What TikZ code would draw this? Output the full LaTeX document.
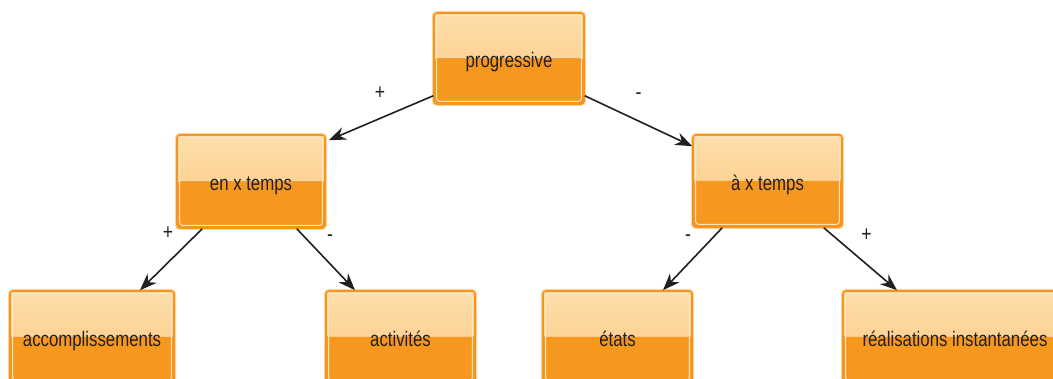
\documentclass[tikz,border=0pt]{standalone}
\usepackage{fontspec}
\setmainfont{Liberation Sans}[FakeStretch=0.8]
\usetikzlibrary{arrows.meta}
\definecolor{toplight}{HTML}{FDDEAB}
\definecolor{topmid}{HTML}{FCC880}
\definecolor{boxorange}{HTML}{F7981E}
\definecolor{edgec}{HTML}{F7941D}
\definecolor{glowc}{HTML}{FDD7A2}
\definecolor{innerc}{HTML}{FDE6C4}
\definecolor{inkc}{HTML}{231F20}
\tikzset{
  gbox/.style={rectangle, rounded corners=3pt, minimum width=#1, minimum height=92pt,
    inner sep=0pt, text=inkc, font=\fontsize{21}{24}\selectfont,
    text height=22pt, text depth=3pt,
    preaction={draw=glowc, line width=4pt},
    draw=edgec, line width=1.6pt,
    path picture={
      \fill[top color=toplight, bottom color=topmid]
        (path picture bounding box.north west) rectangle (path picture bounding box.east);
      \fill[boxorange]
        (path picture bounding box.west) rectangle (path picture bounding box.south east);
      \draw[innerc, line width=1pt]
        ([shift={(2.6pt,-2.6pt)}]path picture bounding box.north west) rectangle
        ([shift={(-2.6pt,2.6pt)}]path picture bounding box.south east);
    }},
  gbox/.default=149pt,
  conn/.style={draw=inkc, line width=1.6pt, -{Stealth[length=17pt,width=13pt]}},
  lbl/.style={text=inkc, font=\fontsize{22}{24}\selectfont, inner sep=0pt}
}
\begin{document}
\begin{tikzpicture}[x=1pt,y=1pt]
\useasboundingbox (0,0) rectangle (1053,379);
\clip (0,0) rectangle (1053,379);
\node[gbox=150pt, minimum height=91pt] (p) at (509,320.5) {progressive};
\node[gbox=148pt, minimum height=93pt] (e) at (251,197.5) {en x temps};
\node[gbox=149pt] (a) at (767.5,198) {à x temps};
\node[gbox=164pt] (acc) at (92,42) {accomplissements};
\node[gbox=149pt] (act) at (400.5,42) {activités};
\node[gbox=149pt] (et) at (617.5,42) {états};
\node[gbox=224pt] (re) at (955,42) {réalisations instantanées};

\draw[conn] ([yshift=9pt]p.south west) -- ([shift={(3pt,-6pt)}]e.north east);
\draw[conn] ([yshift=9pt]p.south east) -- ([yshift=-12pt]a.north west);
\draw[conn] ([xshift=26pt]e.south west) -- ([xshift=48pt]acc.north);
\draw[conn] ([xshift=-29pt]e.south east) -- ([xshift=-45.5pt]act.north);
\draw[conn] ([xshift=30pt]a.south west) -- ([xshift=45.5pt]et.north);
\draw[conn] ([xshift=-19pt]a.south east) -- ([xshift=-58pt]re.north);

\node[lbl] (l1) at (380,286) {+};
\node[lbl] (l2) at (638.5,283) {-};
\node[lbl] (l3) at (168,146) {+};
\node[lbl] (l4) at (330,141) {-};
\node[lbl] (l5) at (688,141) {-};
\node[lbl] (l6) at (866.5,144) {+};
\end{tikzpicture}
\end{document}
